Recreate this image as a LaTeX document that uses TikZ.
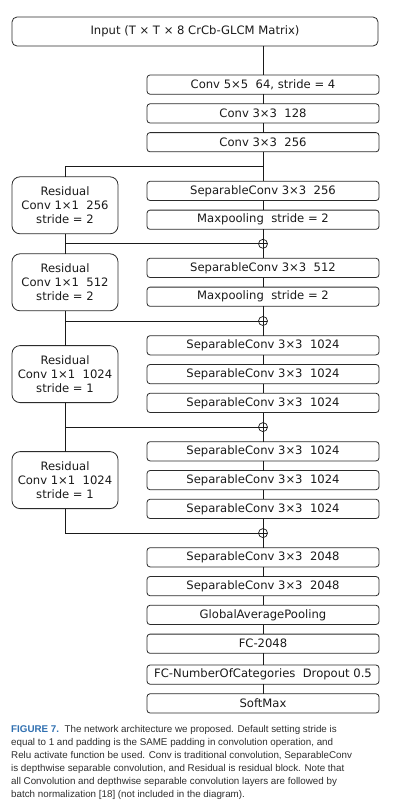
\documentclass[tikz,border=0pt]{standalone}
\usepackage{fontspec}
\setmainfont{DejaVu Sans}
\newfontfamily\capfont{Liberation Sans}
\usetikzlibrary{calc,positioning}
\definecolor{Ink}{HTML}{1A1A1A}
\definecolor{BoxLine}{HTML}{2B2B2B}
\definecolor{CapText}{HTML}{2E2E2E}
\definecolor{CapBlue}{HTML}{2F6FB0}
\tikzset{
  layer/.style={
    draw=BoxLine,
    line width=0.8pt,
    rounded corners=3pt,
    minimum width=232pt,
    minimum height=19.2pt,
    inner sep=0pt,
    outer sep=0pt,
    text=Ink
  },
  resblock/.style={
    draw=BoxLine,
    line width=0.8pt,
    rounded corners=8pt,
    minimum width=106pt,
    minimum height=57pt,
    inner sep=0pt,
    outer sep=0pt,
    align=center,
    text=Ink
  },
  addop/.style={
    circle,
    draw=Ink,
    line width=0.7pt,
    minimum size=9pt,
    inner sep=0pt,
    outer sep=0pt,
    path picture={
      \draw[Ink,line width=0.7pt] (path picture bounding box.north) -- (path picture bounding box.south)
        (path picture bounding box.west) -- (path picture bounding box.east);
    }
  },
  link/.style={draw=Ink,line width=0.8pt}
}

\begin{document}
\begin{tikzpicture}[
    x=1pt,y=1pt,
    node distance=9.6pt,
    font=\fontsize{11.6}{14}\selectfont
  ]
  \useasboundingbox (0,0) rectangle (416,-804);

  % input and stem
  \node[layer,minimum width=366pt,minimum height=29pt,rounded corners=5pt] (input) at (195,-31.5)
    {Input (T × T × 8 CrCb-GLCM Matrix)};
  \node[layer] (conv5) at (263,-84.6) {Conv 5×5\ \ 64,\ stride = 4};
  \node[layer,below=of conv5] (conv128) {Conv 3×3\ \ 128};
  \node[layer,below=of conv128] (conv256) {Conv 3×3\ \ 256};

  % entry flow
  \node[layer,below=29.5pt of conv256] (sep256) {SeparableConv 3×3\ \ 256};
  \node[layer,below=of sep256] (pool1) {Maxpooling\ \ stride = 2};
  \node[layer,below=29pt of pool1] (sep512) {SeparableConv 3×3\ \ 512};
  \node[layer,below=of sep512] (pool2) {Maxpooling\ \ stride = 2};

  % middle flow
  \node[layer,below=29.4pt of pool2] (sepA) {SeparableConv 3×3\ \ 1024};
  \node[layer,below=of sepA] (sepB) {SeparableConv 3×3\ \ 1024};
  \node[layer,below=of sepB] (sepC) {SeparableConv 3×3\ \ 1024};
  \node[layer,below=29.2pt of sepC] (sepD) {SeparableConv 3×3\ \ 1024};
  \node[layer,below=of sepD] (sepE) {SeparableConv 3×3\ \ 1024};
  \node[layer,below=of sepE] (sepF) {SeparableConv 3×3\ \ 1024};

  % exit flow
  \node[layer,below=29.2pt of sepF] (sepG) {SeparableConv 3×3\ \ 2048};
  \node[layer,below=of sepG] (sepH) {SeparableConv 3×3\ \ 2048};
  \node[layer,below=of sepH] (gap) {GlobalAveragePooling};
  \node[layer,below=of gap] (fc) {FC-2048};
  \node[layer,below=11.7pt of fc] (fcout) {FC-NumberOfCategories\ \ Dropout 0.5};
  \node[layer,below=of fcout] (softmax) {SoftMax};

  % additions
  \coordinate (split) at ($(conv256.south)!0.5!(sep256.north)$);
  \node[addop] (add1) at ($(pool1.south)!0.5!(sep512.north)$) {};
  \node[addop] (add2) at ($(pool2.south)!0.5!(sepA.north)$) {};
  \node[addop] (add3) at ($(sepC.south)!0.5!(sepD.north)$) {};
  \node[addop] (add4) at ($(sepF.south)!0.5!(sepG.north)$) {};

  % residual blocks
  \coordinate (rescol) at (65,0);
  \coordinate (mid1) at ($(sep256.north)!0.5!(pool1.south)$);
  \coordinate (mid2) at ($(sep512.north)!0.5!(pool2.south)$);
  \coordinate (mid3) at ($(sepA.north)!0.5!(sepC.south)$);
  \coordinate (mid4) at ($(sepD.north)!0.5!(sepF.south)$);
  \node[resblock] (res1) at (mid1 -| rescol) {Residual\\Conv 1×1\ \ 256\\stride = 2};
  \node[resblock] (res2) at (mid2 -| rescol) {Residual\\Conv 1×1\ \ 512\\stride = 2};
  \node[resblock] (res3) at (mid3 -| rescol) {Residual\\Conv 1×1\ \ 1024\\stride = 1};
  \node[resblock] (res4) at (mid4 -| rescol) {Residual\\Conv 1×1\ \ 1024\\stride = 1};

  % main path
  \draw[link] (input.south -| conv5.north) -- (conv5.north);
  \foreach \a/\b in {conv5/conv128,conv128/conv256,conv256/sep256,sep256/pool1,pool1/add1,add1/sep512,
      sep512/pool2,pool2/add2,add2/sepA,sepA/sepB,sepB/sepC,sepC/add3,add3/sepD,sepD/sepE,sepE/sepF,
      sepF/add4,add4/sepG,sepG/sepH,sepH/gap,gap/fc,fc/fcout,fcout/softmax}
    \draw[link] (\a.south) -- (\b.north);

  % shortcut path
  \draw[link] (split) -| (res1.north);
  \draw[link] (res1.south) |- (add1.west);
  \draw[link] (res1.south) -- (res2.north);
  \draw[link] (res2.south) |- (add2.west);
  \draw[link] (res2.south) -- (res3.north);
  \draw[link] (res3.south) |- (add3.west);
  \draw[link] (res3.south) -- (res4.north);
  \draw[link] (res4.south) |- (add4.west);

  % caption
  \node[anchor=north west,align=left,inner sep=0pt,text=CapText,
      font=\capfont\fontsize{9.8}{12.9}\selectfont] (caption) at (11,-725.5)
    {{\color{CapBlue}\bfseries FIGURE 7.}\ \ The network architecture we proposed. Default setting stride is\\
     equal to 1 and padding is the SAME padding in convolution operation, and\\
     Relu activate function be used. Conv is traditional convolution, SeparableConv\\
     is depthwise separable convolution, and Residual is residual block. Note that\\
     all Convolution and depthwise separable convolution layers are followed by\\
     batch normalization [18] (not included in the diagram).};
\end{tikzpicture}
\end{document}
